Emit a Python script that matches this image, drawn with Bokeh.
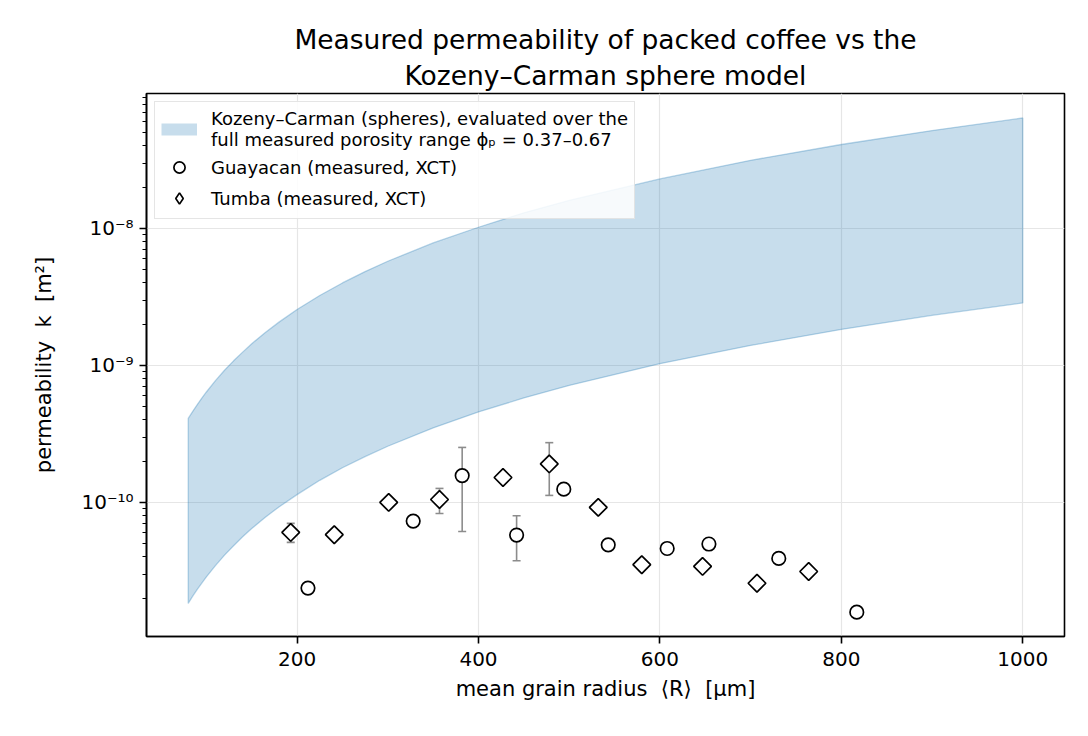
from bokeh.embed import file_html
from bokeh.models import (ColumnDataSource, CustomJSTickFormatter, FixedTicker,
                          Legend, LegendItem, Range1d, TeeHead, Title, Whisker)
from bokeh.plotting import figure
from bokeh.resources import INLINE

FONT = "DejaVu Sans"
NB = "\u00a0"
NAN = float("nan")

# Kozeny-Carman band at a set of radii
band_R = [80, 85, 90, 95, 100, 110, 120, 130, 140, 150, 165, 180, 200, 225,
          250, 275, 300, 350, 400, 450, 500, 600, 700, 800, 900, 1000]
band_k_hi = [4.10e-10, 4.62e-10, 5.18e-10, 5.78e-10, 6.40e-10, 7.74e-10,
             9.22e-10, 1.08e-9, 1.25e-9, 1.44e-9, 1.74e-9, 2.07e-9, 2.56e-9,
             3.24e-9, 4.00e-9, 4.84e-9, 5.76e-9, 7.84e-9, 1.02e-8, 1.30e-8,
             1.60e-8, 2.30e-8, 3.14e-8, 4.10e-8, 5.18e-8, 6.40e-8]
band_k_lo = [1.83e-11, 2.07e-11, 2.32e-11, 2.58e-11, 2.86e-11, 3.46e-11,
             4.12e-11, 4.83e-11, 5.61e-11, 6.44e-11, 7.79e-11, 9.27e-11,
             1.14e-10, 1.45e-10, 1.79e-10, 2.16e-10, 2.57e-10, 3.50e-10,
             4.58e-10, 5.79e-10, 7.15e-10, 1.03e-9, 1.40e-9, 1.83e-9,
             2.32e-9, 2.86e-9]

# Guayacan (circles)
guay_R = [212, 328, 382, 442, 494, 543, 608, 654, 731, 817]
guay_k = [2.37e-11, 7.31e-11, 1.57e-10, 5.78e-11, 1.25e-10, 4.90e-11,
          4.61e-11, 4.97e-11, 3.90e-11, 1.58e-11]
guay_lo = [None, None, 6.14e-11, 3.75e-11, None, None, None, None, None, None]
guay_hi = [None, None, 2.52e-10, 8.0e-11, None, None, None, None, None, None]

# Tumba (diamonds)
tumba_R = [193, 241, 301, 357, 427, 478, 532, 580, 647, 707, 764]
tumba_k = [6.04e-11, 5.81e-11, 1.0e-10, 1.05e-10, 1.52e-10, 1.91e-10,
           9.2e-11, 3.51e-11, 3.41e-11, 2.57e-11, 3.13e-11]
tumba_lo = [5.11e-11, None, None, 8.31e-11, None, 1.125e-10, None, None,
            None, None, None]
tumba_hi = [7.03e-11, None, None, 1.265e-10, None, 2.73e-10, None, None,
            None, None, None]

p = figure(width=1080, height=728, y_axis_type="log",
           x_range=Range1d(34, 1046), y_range=Range1d(1.05e-11, 9.66e-8),
           output_backend="svg", toolbar_location=None,
           min_border_left=146, min_border_right=16,
           min_border_top=93, min_border_bottom=92)
p.title = None

# two centred title lines (the one added last sits on top)
for line, off in [("Kozeny\u2013Carman sphere model", 6),
                  ("Measured permeability of packed coffee vs the", 0)]:
    p.add_layout(Title(text=line, align="center", text_font=FONT,
                       text_font_size="26.5px", text_font_style="normal",
                       text_color="black", text_line_height=0.8,
                       standoff=off), "above")

# model band
band = p.patch(band_R + band_R[::-1], band_k_hi + band_k_lo[::-1],
               fill_color="#1f77b4", fill_alpha=0.25,
               line_color="#1f77b4", line_alpha=0.3, line_width=1.3)

# error bars
def err_source(xs, lo, hi):
    keep = [i for i in range(len(xs)) if lo[i] is not None]
    return ColumnDataSource(dict(x=[xs[i] for i in keep],
                                 lo=[lo[i] for i in keep],
                                 hi=[hi[i] for i in keep]))

for xs, lo, hi in [(guay_R, guay_lo, guay_hi), (tumba_R, tumba_lo, tumba_hi)]:
    w = Whisker(source=err_source(xs, lo, hi), base="x", lower="lo", upper="hi",
                dimension="height", line_color="#8c8c8c", line_width=1.6,
                level="underlay",
                upper_head=TeeHead(size=8, line_color="#8c8c8c", line_width=1.6),
                lower_head=TeeHead(size=8, line_color="#8c8c8c", line_width=1.6))
    p.add_layout(w)

guay = p.scatter(guay_R, guay_k, marker="circle", size=13.5,
                 fill_color="white", line_color="black", line_width=1.7)
tumba = p.scatter(tumba_R, tumba_k, marker="square", angle=0.785398, size=12.5,
                  fill_color="white", line_color="black", line_width=1.7)

# stand-in renderers that only feed the legend (nothing drawn in the plot)
leg_band = p.line([NAN], [NAN], line_color="#c7ddec", line_width=12)
leg_tumba = p.scatter([NAN], [NAN], marker="diamond", size=12,
                      fill_color="white", line_color="black", line_width=1.7)

legend = Legend(items=[
    LegendItem(label="Kozeny\u2013Carman (spheres), evaluated over the\nfull measured porosity range \u03d5\u209a = 0.37\u20130.67",
               renderers=[leg_band]),
    LegendItem(label="Guayacan (measured, XCT)", renderers=[guay]),
    LegendItem(label="Tumba (measured, XCT)", renderers=[leg_tumba]),
], location="top_left")
legend.margin = 8
legend.padding = 6
legend.spacing = 3
legend.glyph_width = 36
legend.glyph_height = 28
legend.label_standoff = 14
legend.label_text_font = FONT
legend.label_text_font_size = "18px"
legend.label_text_color = "black"
legend.border_line_color = "#cccccc"
legend.border_line_width = 1.2
legend.background_fill_alpha = 0.85
p.add_layout(legend)

# axes
p.xaxis.ticker = FixedTicker(ticks=[200, 400, 600, 800, 1000])
p.yaxis.ticker = FixedTicker(
    ticks=[1e-10, 1e-9, 1e-8],
    minor_ticks=[m * 10.0 ** d for d in range(-11, -7) for m in range(2, 10)])
p.yaxis.formatter = CustomJSTickFormatter(code="""
    const sup = {"-": "\u207b", "0": "\u2070", "1": "\u00b9", "2": "\u00b2",
                 "3": "\u00b3", "4": "\u2074", "5": "\u2075", "6": "\u2076",
                 "7": "\u2077", "8": "\u2078", "9": "\u2079"};
    const e = Math.round(Math.log10(tick));
    return "10" + String(e).split("").map(c => sup[c]).join("");
""")
p.xaxis.axis_label = "mean grain radius " + NB + "\u27e8R\u27e9 " + NB + "[\u00b5m]"
p.yaxis.axis_label = "permeability " + NB + "k " + NB + "[m\u00b2]"

for ax in (p.xaxis, p.yaxis):
    ax.axis_label_text_font = FONT
    ax.axis_label_text_font_size = "21px"
    ax.axis_label_text_font_style = "normal"
    ax.axis_label_text_color = "black"
    ax.major_label_text_font = FONT
    ax.major_label_text_font_size = "20px"
    ax.major_label_text_color = "black"
    ax.axis_line_width = 1.6
    ax.major_tick_line_width = 1.6
    ax.minor_tick_line_width = 1.2
    ax.major_tick_out = 7
    ax.major_tick_in = 0
    ax.minor_tick_out = 4
    ax.minor_tick_in = 0
p.xaxis.minor_tick_out = 0
p.xaxis.major_label_standoff = 8
p.xaxis.axis_label_standoff = 8
p.yaxis.major_label_standoff = 6
p.yaxis.axis_label_standoff = 22

p.outline_line_color = "black"
p.outline_line_width = 1.6
p.grid.grid_line_color = "#e6e6e6"
p.grid.grid_line_width = 1.2
p.ygrid.minor_grid_line_color = None

open("out.html", "w").write(file_html(p, INLINE))
